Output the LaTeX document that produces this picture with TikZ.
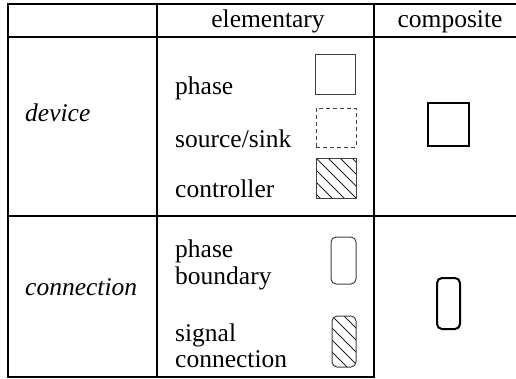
\documentclass[tikz,border=0pt]{standalone}
\usepackage{fontspec}
\setmainfont{Liberation Serif}
\begin{document}
\begin{tikzpicture}[x=1pt,y=-1pt,
  rule/.style={line width=2pt},
  txt/.style={inner sep=0pt,font=\fontsize{25.5}{28}\selectfont},
  lbl/.style={txt,anchor=base west},
  hdr/.style={txt,anchor=base},
  elbox/.style={draw=black!75,line width=1pt,inner sep=0pt,outer sep=0pt},
  compbox/.style={draw=black,line width=2pt,inner sep=0pt,outer sep=0pt},
  hatch/.style={path picture={\foreach \k in {-72,-60,...,60}{\draw[line width=0.8pt,black!85] ([xshift=\k pt]path picture bounding box.north west) -- ++(80pt,-80pt);}}}
]
\useasboundingbox (0,0) rectangle (516,378);
% table rules
\draw[rule] (7,3.5) -- (516,3.5);
\draw[rule] (7,37) -- (516,37);
\draw[rule] (7,216) -- (516,216);
\draw[rule] (7,376.5) -- (374,376.5);
\draw[rule] (8,2.5) -- (8,378);
\draw[rule] (157,2.5) -- (157,378);
\draw[rule] (374,2.5) -- (374,378);
% headers
\node[hdr] (helem) at (268,27) {elementary};
\node[hdr] (hcomp) at (450,27) {composite};
% row labels
\node[lbl,font=\fontsize{25.5}{28}\selectfont\itshape] (dev) at (25,121) {device};
\node[lbl,font=\fontsize{25.5}{28}\selectfont\itshape] (con) at (25,295) {connection};
% elementary device
\node[lbl] (tphase) at (175,94) {phase};
\node[lbl] (tsrc) at (175,147) {source/sink};
\node[lbl] (tctrl) at (175,197) {controller};
\node[elbox,minimum width=40pt,minimum height=40pt] (phasebox) at (335.5,74) {};
\node[elbox,dash pattern=on 4pt off 3pt,minimum width=40pt,minimum height=39pt] (srcbox) at (336,127.5) {};
\node[elbox,hatch,minimum width=40pt,minimum height=40pt] (ctrlbox) at (336,178) {};
% elementary connection
\node[lbl] (tpb1) at (175,257) {phase};
\node[lbl] (tpb2) at (175,284) {boundary};
\node[lbl] (tsc1) at (175,341) {signal};
\node[lbl] (tsc2) at (175,367) {connection};
\node[elbox,rounded corners=5pt,minimum width=25pt,minimum height=47pt] (pbbox) at (343.5,260.5) {};
\node[elbox,hatch,rounded corners=5pt,minimum width=24pt,minimum height=51pt] (scbox) at (344,341.5) {};
% composite
\node[compbox,minimum width=41pt,minimum height=43pt] (compdev) at (448.5,124) {};
\node[compbox,rounded corners=5pt,minimum width=23pt,minimum height=51pt] (compcon) at (448.5,303.5) {};
\end{tikzpicture}
\end{document}
